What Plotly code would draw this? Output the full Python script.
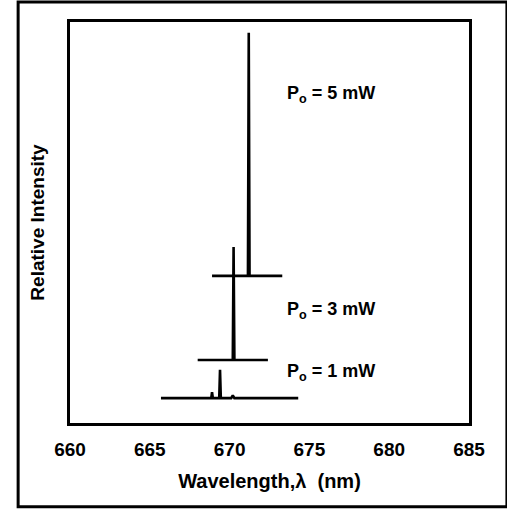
import plotly.graph_objects as go

# Data (wavelength in nm, relative intensity in arbitrary units, spectra vertically offset)
labels = ["P<sub>o</sub> = 1 mW", "P<sub>o</sub> = 3 mW", "P<sub>o</sub> = 5 mW"]
wl_1mW = [665.7, 668.85, 668.9, 668.95, 669.35, 669.4, 669.45, 670.1, 670.2, 670.3, 674.3]
in_1mW = [6.2, 6.2, 7.7, 6.2, 6.2, 13.3, 6.2, 6.2, 6.9, 6.2, 6.2]
wl_3mW = [668.0, 670.2, 670.25, 670.3, 672.4]
in_3mW = [15.7, 15.7, 43.9, 15.7, 15.7]
wl_5mW = [668.9, 671.15, 671.2, 671.25, 673.3]
in_5mW = [36.7, 36.7, 97.3, 36.7, 36.7]
label_x = [673.5, 673.5, 673.5]
label_y = [12.7, 28.0, 81.8]
xticks = [660, 665, 670, 675, 680, 685]

FONT = "Liberation Sans"

fig = go.Figure()
for wl, inten in [(wl_1mW, in_1mW), (wl_3mW, in_3mW), (wl_5mW, in_5mW)]:
    fig.add_trace(go.Scatter(x=wl, y=inten, mode="lines",
                             line=dict(color="black", width=2.6),
                             showlegend=False, hoverinfo="skip"))

for lab, lx, ly in zip(labels, label_x, label_y):
    fig.add_annotation(x=lx, y=ly, text=lab, showarrow=False,
                       xanchor="left", yanchor="middle",
                       font=dict(family=FONT, size=18, color="black", weight="bold"))

# outer frame
fig.add_shape(type="rect", xref="paper", yref="paper",
              x0=-0.13, x1=1.095, y0=-0.209, y1=1.05,
              line=dict(color="black", width=3))

fig.update_layout(
    width=507, height=509,
    margin=dict(l=70, r=38, t=22, b=86),
    paper_bgcolor="white", plot_bgcolor="white",
    xaxis=dict(range=[660, 685], tickvals=xticks, ticktext=[str(t) for t in xticks],
               showgrid=False, zeroline=False, showline=True, mirror=True,
               linecolor="black", linewidth=3, ticks="",
               ticklabelstandoff=7,
               tickfont=dict(family=FONT, size=19, color="black", weight="bold"),
               title=dict(text="Wavelength,λ  (nm)", standoff=16,
                          font=dict(family=FONT, size=20, color="black", weight="bold"))),
    yaxis=dict(range=[0, 100], tickvals=[], showticklabels=False, showgrid=False,
               zeroline=False, showline=True, mirror=True, linecolor="black",
               linewidth=3, ticks="",
               title=dict(text="Relative Intensity", standoff=18,
                          font=dict(family=FONT, size=19, color="black", weight="bold"))),
)

fig.write_html("out.html")
